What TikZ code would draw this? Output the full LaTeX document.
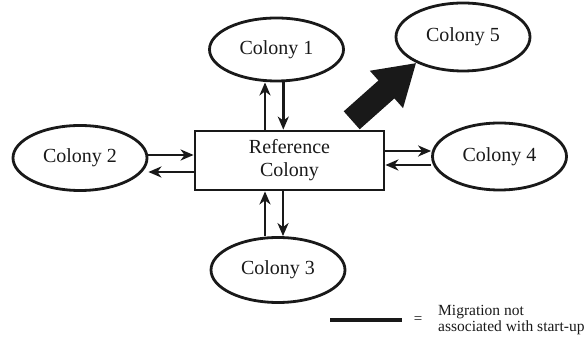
\documentclass[tikz,border=0pt]{standalone}
\usepackage{fontspec}
\setmainfont{Liberation Serif}
\usetikzlibrary{shapes.geometric,arrows.meta}

\begin{document}
\begin{tikzpicture}[x=1pt, y=1pt, color=black!90,
  colony/.style={ellipse, draw, line width=2.8pt, minimum width=134pt, minimum height=65pt,
    inner sep=0pt, font=\fontsize{20}{23}\selectfont},
  mig/.style={line width=2.6pt, -{Stealth[length=13pt, width=11pt, inset=4pt]}}]
  \useasboundingbox (0,0) rectangle (588,339);
  \node (ref) [draw, line width=2.8pt, minimum width=189pt, minimum height=59pt, align=center,
    font=\fontsize{20}{23}\selectfont] at (289.5,178.5) {Reference\\Colony};
  \node (c1) [colony, minimum height=63pt] at (276.5,289.5) {Colony 1};
  \node (c2) [colony] at (80,181) {Colony 2};
  \node (c3) [colony] at (278,69) {Colony 3};
  \node (c4) [colony, minimum height=67pt] at (499.5,182.5) {Colony 4};
  \node (c5) [colony, minimum height=68pt] at (463,302) {Colony 5};
  \path[mig]
  ([xshift=-24.5pt]ref.north) edge ([xshift=-11.5pt]c1.south)
  ([xshift=6.8pt]c1.south) edge ([xshift=-6.2pt]ref.north)
  ([xshift=-13pt]c3.north) edge ([xshift=-24.5pt]ref.south)
  ([xshift=-6.5pt]ref.south) edge ([xshift=5pt]c3.north)
  ([yshift=3pt]c2.east) edge ([yshift=5.5pt]ref.west)
  ([yshift=-11.5pt]ref.west) edge ([yshift=-14pt]c2.east)
  ([yshift=9.5pt]ref.east) edge ([yshift=5.5pt]c4.west)
  ([yshift=-8.5pt]c4.west) edge ([yshift=-4.5pt]ref.east)
;
  % start-up migration
  \draw[line width=24pt, -{Triangle[length=40pt, width=47pt]}]
    ([shift={(62.2pt,9.3pt)}]ref.north) -- (c5.209);
  % key
  \coordinate (k1) at (330,19);
  \coordinate (k2) at (402,19);
  \draw[line width=3.2pt] (k1) -- (k2);
  \node (eq) [font=\fontsize{15}{15}\selectfont] at (418,19) {=};
  \node (key) [anchor=west, inner sep=0pt, align=left, font=\fontsize{15.5}{16}\selectfont]
    at (438,19) {Migration not\\associated with start-up};
\end{tikzpicture}
\end{document}
